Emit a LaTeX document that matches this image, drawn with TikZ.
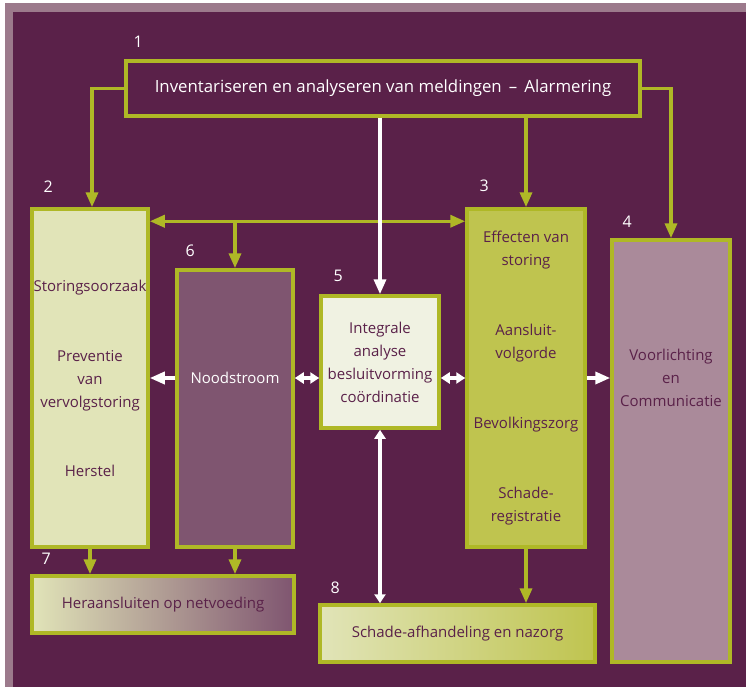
\documentclass[tikz,border=0pt]{standalone}
\usepackage{fontspec}
\setmainfont{Open Sans}
\usetikzlibrary{arrows.meta}
\definecolor{paars}{HTML}{5A2149}
\definecolor{mauve}{HTML}{9C7A8C}
\definecolor{groen}{HTML}{AFB826}
\definecolor{creme}{HTML}{E1E4B8}
\definecolor{olijf}{HTML}{BFC44F}
\definecolor{lila}{HTML}{7F5570}
\definecolor{roze}{HTML}{AA8A9A}
\definecolor{bleek}{HTML}{F0F2E2}
\tikzset{
  blok/.style={draw=groen,line width=3.5pt,inner sep=0pt,align=center,text=paars,font=\fontsize{15}{23}\selectfont},
  nr/.style={text=white,inner sep=0pt,font=\fontsize{16}{16}\selectfont},
  gpijl/.style={draw=groen,line width=3.5pt,-{Triangle[length=15pt,width=12pt]}},
  wpijl/.style={draw=white,line width=3.5pt,-{Triangle[length=15pt,width=12pt]}},
  wdubbel/.style={draw=white,line width=3.5pt,{Triangle[length=9pt,width=11pt]}-{Triangle[length=9pt,width=11pt]}},
}
\begin{document}
\begin{tikzpicture}[x=1pt,y=-1pt]
    \useasboundingbox (0,0) rectangle (746,687);
    \fill[white] (0,0) rectangle (746,687);
    \fill[mauve] (5,3) rectangle (746,687);
    \fill[paars] (13,12) rectangle (746,687);%achtergrond
    % blokken
    \node[blok,fill=paars,text=white,minimum width=514pt,minimum height=55pt,font=\fontsize{16.8}{18}\selectfont] (inv) at (383,88.5) {Inventariseren en analyseren van meldingen \,--\, Alarmering};
    \node[blok,fill=creme,minimum width=116pt,minimum height=338pt] (oorzaak) at (90,378) {Storingsoorzaak\\[47pt]Preventie\\van\\vervolgstoring\\[46pt]Herstel};
    \node[blok,fill=olijf,minimum width=118pt,minimum height=338pt] (effect) at (526,378) {Effecten van\\storing\\[47pt]Aansluit-\\volgorde\\[47pt]Bevolkingszorg\\[47pt]Schade-\\registratie};
    \node[blok,fill=lila,minimum width=116pt,minimum height=277pt] (nood) at (235,408.5) {};
    \node[blok,fill=bleek,minimum width=118pt,minimum height=132pt] (analyse) at (380,362) {Integrale\\analyse\\besluitvorming\\co\"ordinatie};
    \node[blok,fill=roze,minimum width=118pt,minimum height=422pt] (voorl) at (671,451) {};
    \node[blok,left color=creme,middle color=roze,right color=lila,minimum width=262pt,minimum height=57pt] (netvoeding) at (163,604.5) {Heraansluiten op netvoeding};
    \node[blok,left color=creme,right color=olijf,minimum width=275pt,minimum height=57pt] (nazorg) at (457.5,633.5) {Schade-afhandeling en nazorg};
    % teksten in blok 4 en 6
    \node[blok,draw=none,text=white] (noodtxt) at (nood |- oorzaak) {Noodstroom};
    \node[blok,draw=none] (voorltxt) at (voorl |- oorzaak) {Voorlichting\\en\\Communicatie};
    % nummers
    \node[nr] (n1) at ([shift={(14,-17)}]inv.north west) {1};
    \node[nr] (n2) at ([shift={(18,-21)}]oorzaak.north west) {2};
    \node[nr] (n3) at ([shift={(19,-21)}]effect.north west) {3};
    \node[nr] (n4) at ([shift={(17,-16)}]voorl.north west) {4};
    \node[nr] (n5) at ([shift={(19,-18)}]analyse.north west) {5};
    \node[nr] (n6) at ([shift={(15,-17)}]nood.north west) {6};
    \node[nr] (n7) at ([shift={(16,-15)}]netvoeding.north west) {7};
    \node[nr] (n8) at ([shift={(17,-15)}]nazorg.north west) {8};
    % groene pijlen
    \draw[gpijl] (inv.west) -| ([xshift=2pt]oorzaak.north);
    \draw[gpijl] (inv.east) -| (voorl.north);
    \draw[gpijl] (inv.south -| effect.north) -- (effect.north);
    \draw[draw=groen,line width=3.5pt,{Triangle[length=15pt,width=12pt]}-{Triangle[length=15pt,width=12pt]}] ([yshift=-14pt]oorzaak.north east) coordinate (hl) -- ([yshift=-14pt]effect.north west);
    \draw[gpijl] (hl -| nood.north) -- (nood.north);
    \draw[gpijl] (oorzaak.south) -- (oorzaak.south |- netvoeding.north);
    \draw[gpijl] (nood.south) -- (nood.south |- netvoeding.north);
    \draw[gpijl] (effect.south) -- (effect.south |- nazorg.north);
    % witte pijlen
    \draw[wpijl] (inv.south -| analyse.north) -- (analyse.north);
    \draw[wdubbel] (analyse.south) -- (analyse.south |- nazorg.north);
    \draw[wpijl] (nood.west |- oorzaak.east) -- (oorzaak.east);
    \draw[wdubbel] (nood.east |- oorzaak.east) -- (analyse.west |- oorzaak.east);
    \draw[wdubbel] (analyse.east |- oorzaak.east) -- (effect.west);
    \draw[wpijl] (effect.east) -- (voorl.west |- effect.east);
\end{tikzpicture}
\end{document}
